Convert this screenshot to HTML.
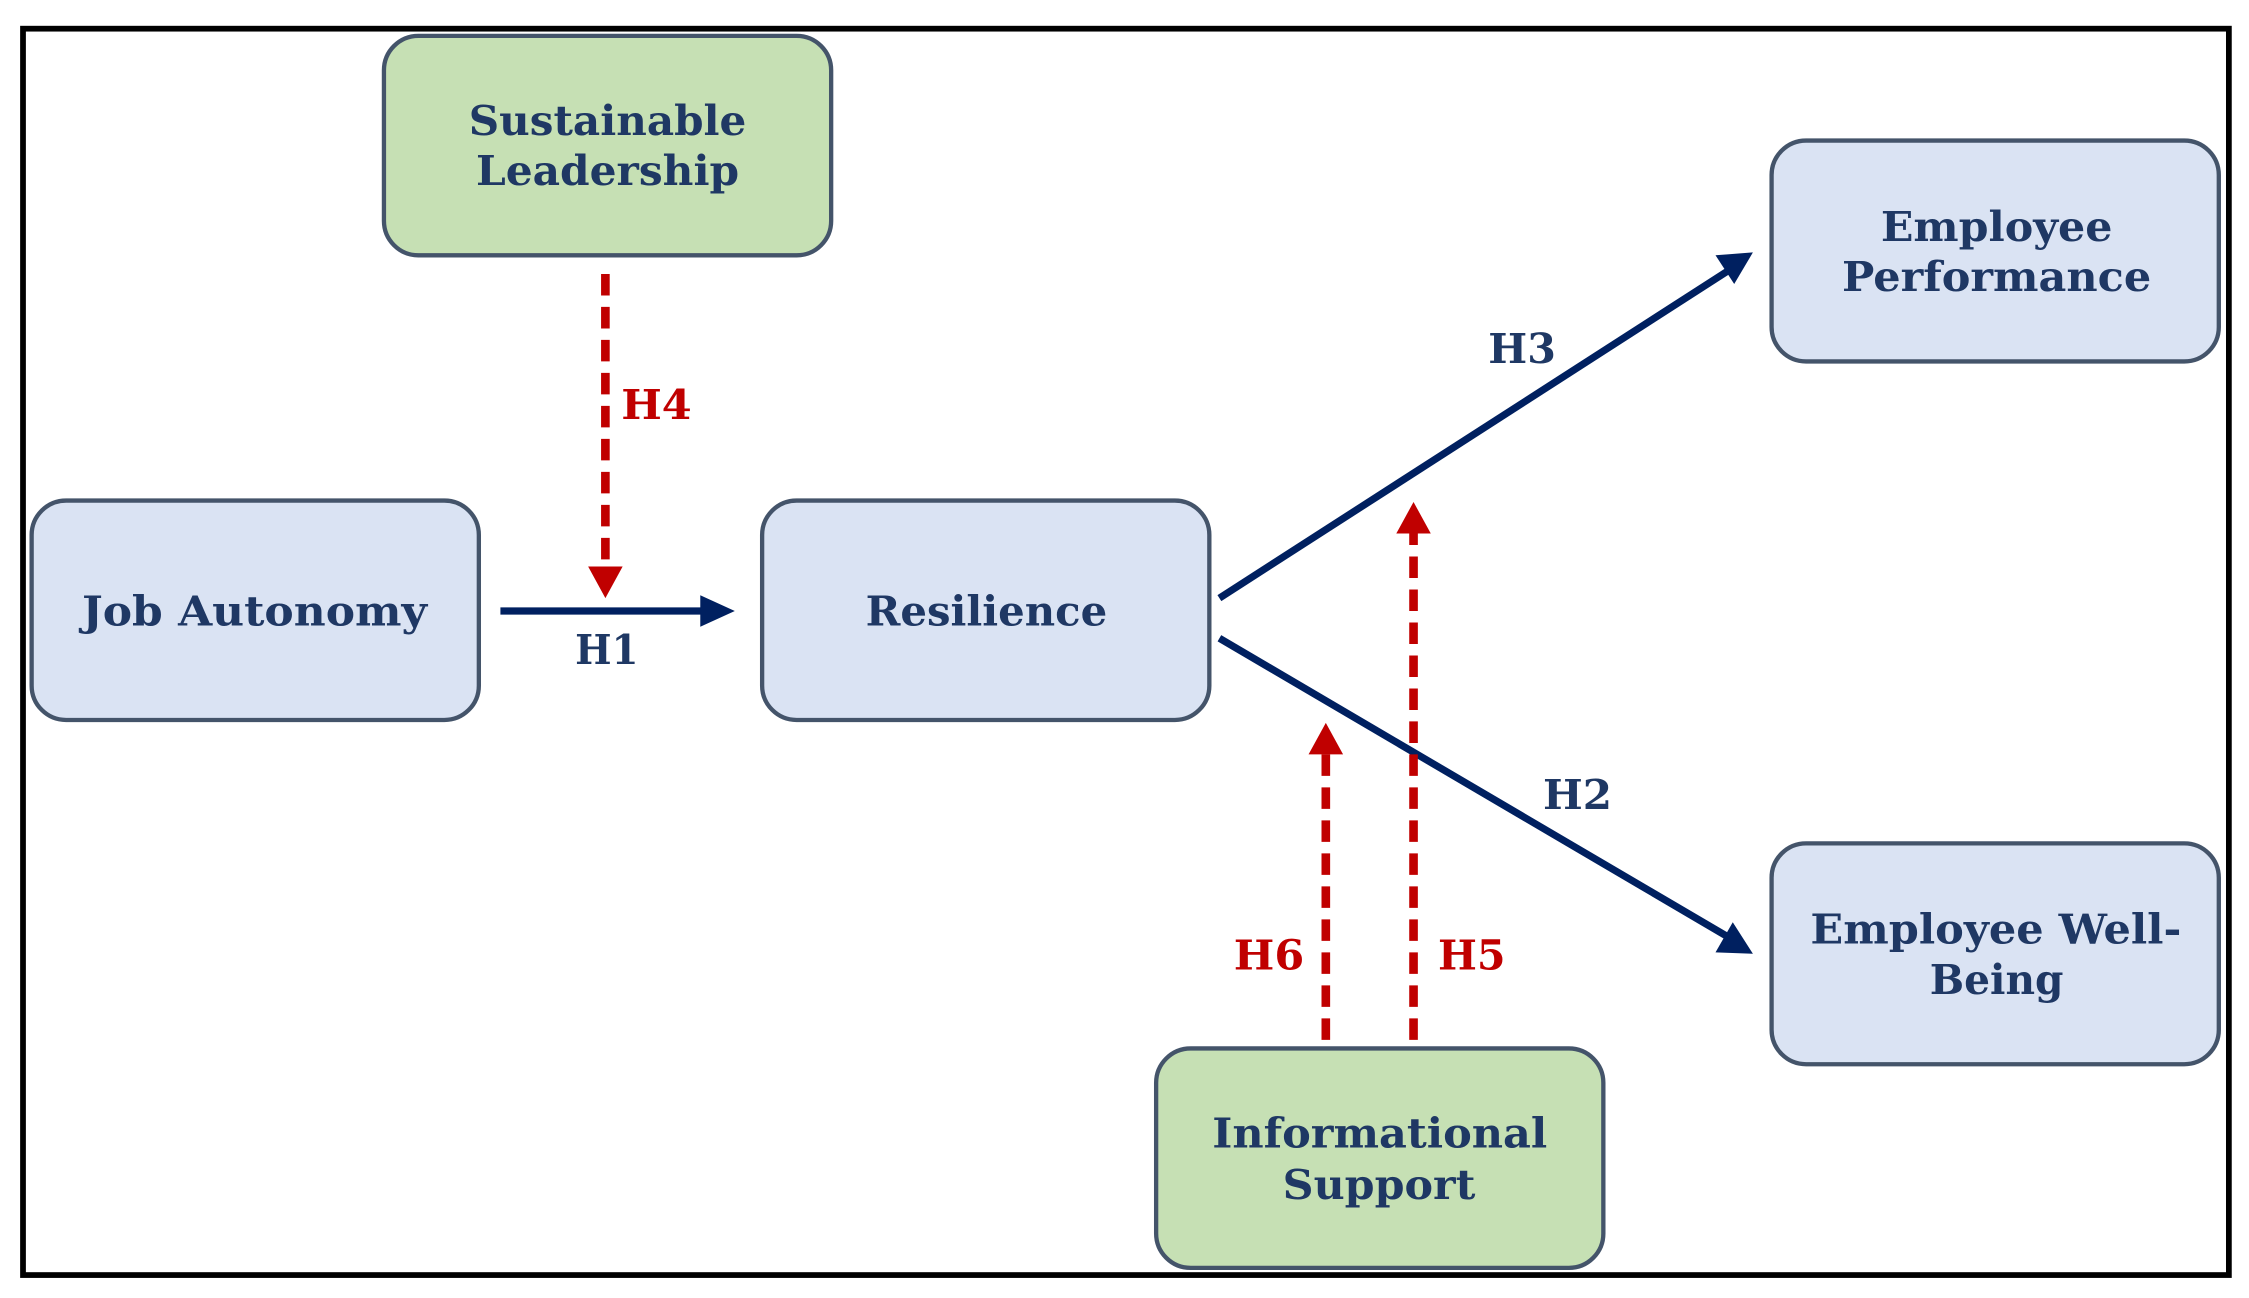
<!DOCTYPE html>
<html><head><meta charset="utf-8"><style>
html,body{margin:0;padding:0;background:#fff;}
svg{display:block;}
text{font-family:"DejaVu Serif","Liberation Serif",serif;font-weight:bold;}
</style></head><body>
<svg width="2249" height="1298" viewBox="0 0 1564 905" preserveAspectRatio="none" xmlns="http://www.w3.org/2000/svg">
<rect x="16" y="20" width="1534" height="869" fill="#fff" stroke="#000" stroke-width="4"/>
<g stroke="#44546a" stroke-width="3">
<rect x="267" y="25" width="311" height="153" rx="24" fill="#c6e0b4"/>
<rect x="22" y="349" width="311" height="153" rx="24" fill="#dae3f3"/>
<rect x="530" y="349" width="311" height="153" rx="24" fill="#dae3f3"/>
<rect x="1232" y="98" width="311" height="154" rx="24" fill="#dae3f3"/>
<rect x="1232" y="588" width="311" height="154" rx="24" fill="#dae3f3"/>
<rect x="804" y="731" width="311" height="153" rx="24" fill="#c6e0b4"/>
</g>
<g fill="#1f3864" font-size="29" lengthAdjust="spacingAndGlyphs">
<text x="326" y="94" textLength="193" lengthAdjust="spacingAndGlyphs">Sustainable</text>
<text x="331" y="129" textLength="183" lengthAdjust="spacingAndGlyphs">Leadership</text>
<text x="57" y="436" textLength="240" lengthAdjust="spacingAndGlyphs">Job Autonomy</text>
<text x="602" y="436" textLength="168" lengthAdjust="spacingAndGlyphs">Resilience</text>
<text x="1308" y="168" textLength="161" lengthAdjust="spacingAndGlyphs">Employee</text>
<text x="1281" y="203" textLength="215" lengthAdjust="spacingAndGlyphs">Performance</text>
<text x="1259" y="658" textLength="258" lengthAdjust="spacingAndGlyphs">Employee Well-</text>
<text x="1342" y="693" textLength="93" lengthAdjust="spacingAndGlyphs">Being</text>
<text x="843" y="800" textLength="233" lengthAdjust="spacingAndGlyphs">Informational</text>
<text x="892" y="836" textLength="134" lengthAdjust="spacingAndGlyphs">Support</text>
</g>
<g stroke="#002060" stroke-width="5" fill="none">
<line x1="348" y1="426" x2="492" y2="426"/>
<line x1="848" y1="417" x2="1203" y2="188"/>
<line x1="848" y1="445" x2="1203" y2="654"/>
</g>
<g fill="#002060">
<path d="M487,415 L511,426 L487,437 Z"/>
<path d="M1193,178 L1219,176 L1206,198 Z"/>
<path d="M1193,664 L1219,665 L1205,643 Z"/>
</g>
<g stroke="#c00000" stroke-width="6" stroke-dasharray="15,8" fill="none">
<line x1="421" y1="191" x2="421" y2="398"/>
<line x1="983" y1="725" x2="983" y2="370"/>
<line x1="922" y1="725" x2="922" y2="523"/>
</g>
<g fill="#c00000">
<path d="M409,395 L433,395 L421,417 Z"/>
<path d="M971,372 L995,372 L983,350 Z"/>
<path d="M910,526 L934,526 L922,504 Z"/>
</g>
<g font-size="29">
<text x="432" y="292" fill="#c00000" textLength="49" lengthAdjust="spacingAndGlyphs">H4</text>
<text x="400" y="463" fill="#1f3864" textLength="44" lengthAdjust="spacingAndGlyphs">H1</text>
<text x="1035" y="253" fill="#1f3864" textLength="47" lengthAdjust="spacingAndGlyphs">H3</text>
<text x="1073" y="564" fill="#1f3864" textLength="48" lengthAdjust="spacingAndGlyphs">H2</text>
<text x="858" y="676" fill="#c00000" textLength="49" lengthAdjust="spacingAndGlyphs">H6</text>
<text x="1000" y="676" fill="#c00000" textLength="47" lengthAdjust="spacingAndGlyphs">H5</text>
</g>
</svg>
</body></html>
